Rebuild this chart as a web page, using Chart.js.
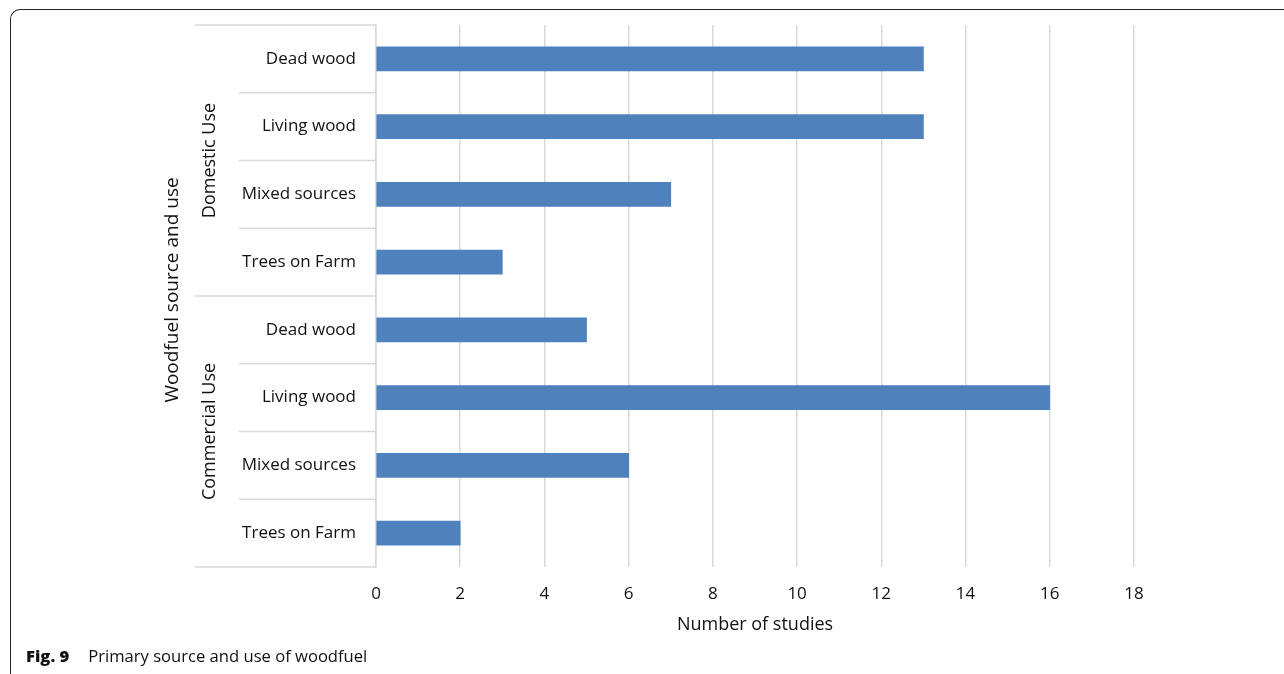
<!DOCTYPE html>
<html>
<head>
<meta charset="utf-8">
<script src="https://cdn.jsdelivr.net/npm/chart.js@4/dist/chart.umd.min.js"></script>
<style>
    body { margin: 0; background: #fff; }
    #wrap { position: relative; width: 1284px; height: 674px; overflow: hidden; }
    #frame {
        position: absolute; left: 10px; top: 9px; width: 1400px; height: 800px;
        border-left: 1.5px solid #222; border-top: 1.5px solid #222;
        border-top-left-radius: 10px;
    }
    #caption {
        position: absolute; left: 26px; top: 644px;
        font-family: "Open Sans", sans-serif; font-size: 16.6px; color: #111;
    }
    #caption b { margin-right: 19px; font-weight: 800; }
    canvas { position: absolute; left: 0; top: 0; }
</style>
</head>
<body>
<div id="wrap">
    <div id="frame"></div>
    <canvas id="woodfuelChart" width="1284" height="674"></canvas>
    <div id="caption"><b>Fig. 9</b>Primary source and use of woodfuel</div>
</div>
<script>
const SOURCES = ['Dead wood', 'Living wood', 'Mixed sources', 'Trees on Farm',
                 'Dead wood', 'Living wood', 'Mixed sources', 'Trees on Farm'];
const GROUPS = ['Domestic Use', 'Commercial Use'];
const STUDIES = [13, 13, 7, 3, 5, 16, 6, 2];
const X_TICKS = [0, 2, 4, 6, 8, 10, 12, 14, 16, 18];

const LINE_GREY = '#d9d9d9';
const FONT = '"Open Sans", sans-serif';

// draws the grouped category axis (separators, group names) and both axis titles
const hierarchyAxis = {
    id: 'hierarchyAxis',
    afterDraw(chart) {
        const ctx = chart.ctx;
        const y = chart.scales.y;
        const area = chart.chartArea;
        const step = (y.bottom - y.top) / SOURCES.length;

        ctx.save();
        ctx.strokeStyle = LINE_GREY;
        ctx.lineWidth = 1.5;
        for (let i = 0; i <= SOURCES.length; i++) {
            const yy = y.top + i * step;
            const startX = (i % 4 === 0) ? 195 : 239;
            ctx.beginPath();
            ctx.moveTo(startX, yy);
            ctx.lineTo(area.left, yy);
            ctx.stroke();
        }

        ctx.fillStyle = '#111';
        ctx.textAlign = 'center';
        ctx.textBaseline = 'middle';
        ctx.font = '18px ' + FONT;
        GROUPS.forEach(function (g, gi) {
            const mid = y.top + (gi * 4 + 2) * step;
            ctx.save();
            ctx.translate(210, mid);
            ctx.rotate(-Math.PI / 2);
            ctx.fillText(g, 0, 0);
            ctx.restore();
        });

        ctx.font = '19px ' + FONT;
        ctx.save();
        ctx.translate(173, 290);
        ctx.rotate(-Math.PI / 2);
        ctx.fillText('Woodfuel source and use', 0, 0);
        ctx.restore();

        ctx.font = '18px ' + FONT;
        ctx.fillText('Number of studies', (area.left + area.right) / 2, 625);
        ctx.restore();
    }
};

new Chart(document.getElementById('woodfuelChart'), {
    type: 'bar',
    data: {
        labels: SOURCES,
        datasets: [{
            data: STUDIES,
            backgroundColor: '#4f81bd',
            barThickness: 24
        }]
    },
    options: {
        indexAxis: 'y',
        responsive: false,
        animation: false,
        layout: { padding: { top: 25, right: 150, left: 0, bottom: 0 } },
        plugins: {
            legend: { display: false },
            tooltip: { enabled: false }
        },
        scales: {
            x: {
                min: 0,
                max: 18,
                afterBuildTicks: function (scale) {
                    scale.ticks = X_TICKS.map(v => ({ value: v }));
                },
                afterFit: function (scale) { scale.height = 107; },
                grid: { color: LINE_GREY, lineWidth: 1.5, drawTicks: false },
                border: { display: false },
                ticks: { color: '#111', padding: 17, font: { family: FONT, size: 17 } }
            },
            y: {
                afterFit: function (scale) {
                    scale.width = 376;
                    scale.paddingTop = 0;
                    scale.paddingBottom = 0;
                },
                grid: { display: false, drawTicks: false },
                border: { display: true, color: LINE_GREY, width: 1.5 },
                ticks: { color: '#111', padding: 20, font: { family: FONT, size: 17 } }
            }
        }
    },
    plugins: [hierarchyAxis]
});
</script>
</body>
</html>
